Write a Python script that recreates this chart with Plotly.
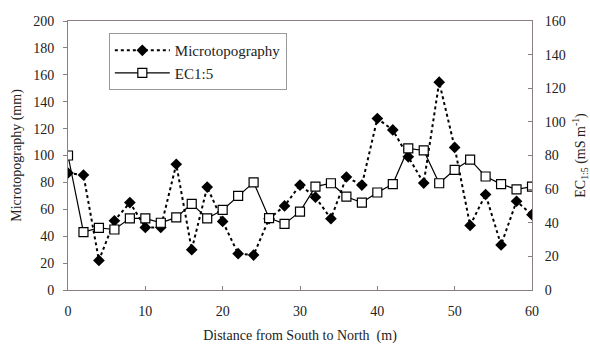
import plotly.graph_objects as go

distance = list(range(0, 61, 2))
microtopography = [87, 85.5, 22, 51.5, 65, 46.5, 46.5, 93.5, 30, 76.5, 51, 27, 26, 53,
                   62.5, 78, 69, 53, 84, 78, 127.5, 119, 99, 79.5, 154.5, 106, 48, 71, 33.5, 66, 56]
ec15 = [80, 34.4, 37, 36, 42.6, 42.6, 40, 43.2, 51.2, 42.6, 47.6, 56, 64, 42.8,
        39.3, 46.6, 61.5, 63.5, 55.5, 52, 58, 63, 84.2, 83, 63.5, 71.5, 77.5, 67.5, 63, 59.8, 61.5]
y_left_ticks = list(range(0, 201, 20))
y_right_ticks = list(range(0, 161, 20))
x_ticks = list(range(0, 61, 10))

FONT = "Liberation Serif"
TXT = "#222222"
FRAME = "#8a7f7f"

fig = go.Figure()
fig.add_trace(go.Scatter(
    x=distance, y=microtopography, name="Microtopography", mode="lines+markers",
    line=dict(color="black", width=2, dash="dot"),
    marker=dict(symbol="diamond", size=9, color="black"),
    yaxis="y"))
fig.add_trace(go.Scatter(
    x=distance, y=ec15, name="EC1:5", mode="lines+markers",
    line=dict(color="black", width=1.2),
    marker=dict(symbol="square", size=9, color="white", line=dict(color="black", width=1.2)),
    yaxis="y2"))

fig.update_layout(
    width=590, height=344,
    margin=dict(l=68, r=58, t=21, b=54),
    paper_bgcolor="white", plot_bgcolor="white",
    font=dict(family=FONT, size=14, color=TXT),
    showlegend=True,
    legend=dict(x=0.088, y=0.955, xanchor="left", yanchor="top",
                bordercolor="#999999", borderwidth=1, bgcolor="white",
                font=dict(size=15, family=FONT, color=TXT),
                itemwidth=55, tracegroupgap=2),
    xaxis=dict(range=[0, 60], tickvals=x_ticks, showgrid=False, zeroline=False,
               automargin=False,
               showline=True, linecolor=FRAME, linewidth=1, mirror=True,
               ticks="inside", ticklen=4, tickcolor=FRAME,
               ticklabelstandoff=8,
               title=dict(text="Distance from South to North  (m)", standoff=15,
                          font=dict(size=14))),
    yaxis=dict(range=[0, 200], tickvals=y_left_ticks, showgrid=False, zeroline=False,
               automargin=False,
               showline=True, linecolor=FRAME, linewidth=1,
               ticks="outside", ticklen=4, tickcolor=FRAME,
               ticklabelstandoff=6,
               title=dict(text="Microtopography (mm)", standoff=8, font=dict(size=14))),
    yaxis2=dict(range=[0, 160], tickvals=y_right_ticks, overlaying="y", side="right",
                automargin=False,
                showgrid=False, zeroline=False,
                showline=True, linecolor=FRAME, linewidth=1,
                ticks="inside", ticklen=4, tickcolor=FRAME,
                ticklabelstandoff=9,
                title=dict(text="EC<sub>1:5</sub> (mS m<sup>-1</sup>)", standoff=10,
                           font=dict(size=14))),
)

fig.write_html("out.html")
